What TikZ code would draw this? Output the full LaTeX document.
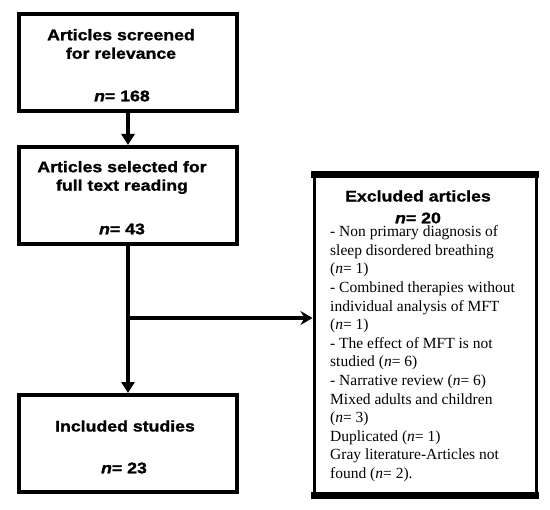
\documentclass[tikz,border=0pt]{standalone}
\usepackage{fontspec}
\setmainfont{Liberation Serif}
\newfontfamily\hdr[FakeStretch=1.15,FakeBold=1.2]{Liberation Sans}
\usetikzlibrary{arrows.meta}
\tikzset{
  box/.style={draw, line width=4bp, minimum width=218bp, minimum height=97bp, inner sep=0pt},
  hd/.style={font=\hdr\bfseries\fontsize{15.4bp}{18.5bp}\selectfont, align=center, inner sep=0pt},
  lst/.style={font=\fontsize{15.5bp}{18.6bp}\selectfont, align=left, anchor=north west, inner sep=0pt},
  conn/.style={line width=4bp},
  arr/.style={conn, -{Triangle[length=11bp,width=13bp]}},
  harr/.style={conn, -{Stealth[length=12bp,width=14bp,inset=4bp]}}
}
\begin{document}
\begin{tikzpicture}[x=1bp,y=-1bp]
\useasboundingbox (0,0) rectangle (550,510);
\node[box] (b1) at (128,62.5) {};
\node[box] (b2) at (128,195.5) {};
\node[box] (b3) at (128,443.5) {};
\node[draw, line width=3bp, minimum width=222bp, minimum height=318bp, inner sep=0pt] (ex) at (425,335) {};
\draw[line width=7bp] ([xshift=-1.5bp]ex.north west) -- ([xshift=1.5bp]ex.north east);
\draw[line width=7bp] ([xshift=-1.5bp]ex.south west) -- ([xshift=1.5bp]ex.south east);

\node[hd] (t1) at (121,44) {Articles screened\\for relevance};
\node[hd] (n1) at (122,96) {\itshape n\upshape= 168};
\node[hd] (t2) at (122,177.5) {Articles selected for\\full text reading};
\node[hd] (n2) at (122,229) {\itshape n\upshape= 43};
\node[hd] (t3) at (125,426) {Included studies};
\node[hd] (n3) at (124,468) {\itshape n\upshape= 23};
\node[hd] (t4) at (418,196) {Excluded articles};
\node[hd] (n4) at (418,218) {\itshape n\upshape= 20};
\node[lst] (l) at (330,225.5) {- Non primary diagnosis of\\sleep disordered breathing\\(\textit{n}= 1)\\- Combined therapies without\\individual analysis of MFT\\(\textit{n}= 1)\\- The effect of MFT is not\\studied (\textit{n}= 6)\\- Narrative review (\textit{n}= 6)\\Mixed adults and children\\(\textit{n}= 3)\\Duplicated (\textit{n}= 1)\\Gray literature-Articles not\\found (\textit{n}= 2).};

\coordinate (j) at (b2.south |- 0,318);
\draw[arr] (b1.south) -- (b2.north);
\draw[arr] (b2.south) -- (b3.north);
\draw[harr] (j) -- (ex.west |- j);
\end{tikzpicture}
\end{document}
